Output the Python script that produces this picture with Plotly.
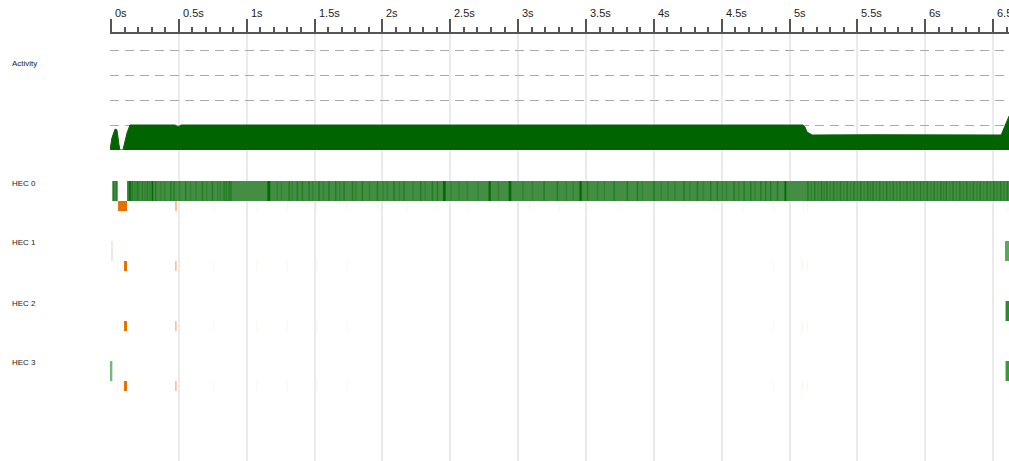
import plotly.graph_objects as go

# ---------------- data ----------------
tick_vals = [0, 0.5, 1, 1.5, 2, 2.5, 3, 3.5, 4, 4.5, 5, 5.5, 6, 6.5]
tick_text = ["0s", "0.5s", "1s", "1.5s", "2s", "2.5s", "3s", "3.5s", "4s", "4.5s", "5s", "5.5s", "6s", "6.5s"]

row_names = ["Activity", "HEC 0", "HEC 1", "HEC 2", "HEC 3"]

# Activity (number of busy HECs)
act_t = [-0.007, 0.007, 0.030, 0.044, 0.059, 0.066, 0.088, 0.118, 0.140, 0.472, 0.494, 0.516,
         5.099, 5.114, 5.129, 5.166, 5.60, 6.10, 6.559, 6.566, 6.588, 6.618]
act_v = [0.0, 0.48, 0.84, 0.80, 0.20, 0.0, 0.0, 0.68, 1.0, 1.0, 0.92, 1.0,
         1.0, 0.92, 0.72, 0.60, 0.61, 0.60, 0.60, 0.68, 1.0, 1.36]

# HEC running segments (start, end) per HEC
run_start = {0: [0.010, 0.118], 1: [0.007, 6.588], 2: [6.592], 3: [-0.004, 6.592]}
run_end = {0: [0.049, 6.620], 1: [0.010, 6.620], 2: [6.620], 3: [0.010, 6.620]}
run_color = {0: ["#3f8c3f", "#438e43"], 1: ["#e2efe2", "#5aa85a"], 2: ["#2f8a2f"], 3: ["#79b779", "#3a9a3a"]}

# darker stripes inside HEC 0 (start times)
hec0_dark_t = [0.012, 0.036, 0.128, 0.152, 0.189, 0.226, 0.263, 0.300, 0.324, 0.435, 0.459,
               0.545, 0.668, 0.742, 0.828, 0.845, 0.865, 0.879, 1.159, 1.307, 1.368, 1.405,
               1.454, 1.528, 1.601, 1.651, 1.712, 1.774, 1.847, 1.958, 2.080, 2.154, 2.277,
               2.363, 2.400, 2.452, 2.786, 2.935, 3.186, 3.284, 3.456, 3.506, 3.702, 3.800,
               3.874, 3.996, 4.217, 4.316, 4.414, 4.463, 4.586, 4.660, 4.709, 4.783, 4.819,
               4.856, 4.906, 4.967, 5.13, 5.18, 5.23, 5.27, 5.32, 5.37, 5.42, 5.47, 5.52,
               5.57, 5.61, 5.66, 5.71, 5.76, 5.81, 5.86, 5.91, 5.96, 6.01, 6.06, 6.11, 6.15,
               6.20, 6.25, 6.30, 6.35, 6.40, 6.45, 6.50, 6.55, 6.60]
hec0_soft_t = [0.140, 0.170, 0.200, 0.245, 0.280, 0.360, 0.390, 0.500, 0.580, 0.620, 0.700,
               0.780, 0.800, 1.220, 1.250, 1.330, 1.480, 1.560, 1.680, 1.800, 1.900, 2.000,
               2.030, 2.120, 2.220, 2.310, 2.500, 2.560, 2.620, 2.700, 2.850, 3.030, 3.100,
               3.350, 3.400, 3.580, 3.630, 3.910, 4.050, 4.100, 4.150, 4.260, 4.360, 4.500,
               4.530, 4.620, 4.740, 5.155, 5.205, 5.25, 5.295, 5.345, 5.395, 5.445, 5.495,
               5.545, 5.59, 5.635, 5.685, 5.735, 5.785, 5.835, 5.885, 5.935, 5.985, 6.035,
               6.085, 6.13, 6.175, 6.225, 6.275, 6.325, 6.375, 6.425, 6.475, 6.525, 6.575]
hec0_strong_t = [0.135, 0.300, 1.152, 2.446, 2.782, 2.930, 3.452, 4.963]
hec0_strong_d = [0.010, 0.010, 0.022, 0.020, 0.016, 0.020, 0.016, 0.012]

# GC / event markers (start, end)
gc_start = {0: [0.052, 0.472], 1: [0.096, 0.472], 2: [0.096, 0.472], 3: [0.096, 0.472]}
gc_end = {0: [0.118, 0.486], 1: [0.118, 0.484], 2: [0.118, 0.484], 3: [0.118, 0.484]}
gc_color = ["#e57200", "rgba(235,140,60,0.55)"]

faint_hec0 = [0.759, 1.066, 1.297, 1.511, 1.732, 1.960, 2.181, 2.395, 2.631, 2.859, 3.080,
              3.301, 3.530, 3.751, 4.215, 4.436, 4.657, 4.878, 5.099, 5.129, 6.605]
faint_other = [0.044, 0.752, 1.066, 1.297, 1.516, 1.737, 4.878, 5.092, 5.129]

# ---------------- figure ----------------
W, H = 1009, 461
fig = go.Figure()

def py(p):
    return 1 - p / H

# activity area
fig.add_trace(go.Scatter(x=act_t, y=act_v, xaxis="x", yaxis="y2", mode="lines",
                         fill="tozeroy", fillcolor="#006400",
                         line=dict(color="#0a600a", width=1), hoverinfo="skip"))

GREEN_W = 1 / 3
GC_W = 1 / 6

def hbar(starts, ends, row, color, width, offset=0.0):
    fig.add_trace(go.Bar(orientation="h", base=starts,
                         x=[e - s for s, e in zip(starts, ends)],
                         y=[row + offset] * len(starts), width=width,
                         marker=dict(color=color, line=dict(width=0)),
                         xaxis="x", yaxis="y3", hoverinfo="skip"))

for h in range(4):
    hbar(run_start[h], run_end[h], h, run_color[h], GREEN_W)

# stripes in HEC 0
hbar(hec0_soft_t, [t + 0.011 for t in hec0_soft_t], 0, "rgba(0,105,0,0.25)", GREEN_W)
hbar(hec0_dark_t, [t + 0.011 for t in hec0_dark_t], 0, "rgba(0,105,0,0.45)", GREEN_W)
hbar(hec0_strong_t, [t + d for t, d in zip(hec0_strong_t, hec0_strong_d)], 0, "rgba(0,100,0,0.85)", GREEN_W)

# events
for h in range(4):
    faint = faint_hec0 if h == 0 else faint_other
    hbar(faint, [t + 0.008 for t in faint], h, "rgba(235,130,40,0.08)", GC_W, 0.25)
    hbar(gc_start[h], gc_end[h], h, gc_color, GC_W, 0.25)

# dummy for anchor subplot
fig.add_trace(go.Scatter(x=[], y=[], xaxis="x", yaxis="y"))

x_left = 110 / W
fig.update_layout(
    width=W, height=H, margin=dict(l=0, r=0, t=0, b=0),
    paper_bgcolor="white", plot_bgcolor="white", showlegend=False, barmode="overlay",
    font=dict(family="Liberation Sans, Arial, sans-serif", color="#222"),
    xaxis=dict(domain=[x_left, 1], range=[-0.0074, 6.6175], side="top", anchor="y",
               showline=True, linecolor="#555", linewidth=2,
               ticks="outside", ticklen=13, tickwidth=2, tickcolor="#555",
               tickvals=tick_vals, showticklabels=False,
               showgrid=True, gridcolor="#ebebeb", gridwidth=2, zeroline=False,
               minor=dict(dtick=0.1, tick0=0, ticks="outside", ticklen=5, tickwidth=2,
                          tickcolor="#555", showgrid=False),
               fixedrange=True),
    yaxis=dict(domain=[0, py(34)], range=[0, 1], visible=False, fixedrange=True),
    yaxis2=dict(domain=[py(150), py(45)], range=[0, 4.2], anchor="x",
                tickvals=[1, 2, 3, 4], showticklabels=False, ticks="",
                showgrid=True, gridcolor="#aaaaaa", gridwidth=1, griddash="9px,6px",
                zeroline=False, showline=False, fixedrange=True),
    yaxis3=dict(domain=[py(431), py(161)], range=[4.0, -0.5], anchor="x",
                visible=False, showgrid=False, zeroline=False, fixedrange=True),
)

# tick labels (left-aligned, right of each major tick)
for v, t in zip(tick_vals, tick_text):
    fig.add_annotation(text=t, xref="x", yref="paper", x=v, y=py(21),
                       xanchor="left", yanchor="bottom", xshift=2, showarrow=False,
                       font=dict(size=11, color="#222"))

label_y = [63, 183, 243, 303, 362]
for name, yp in zip(row_names, label_y):
    fig.add_annotation(text=name, xref="paper", yref="paper", x=10 / W, y=py(yp),
                       xanchor="left", yanchor="middle", showarrow=False,
                       font=dict(size=8, color="#222"))

fig.write_html("out.html")
